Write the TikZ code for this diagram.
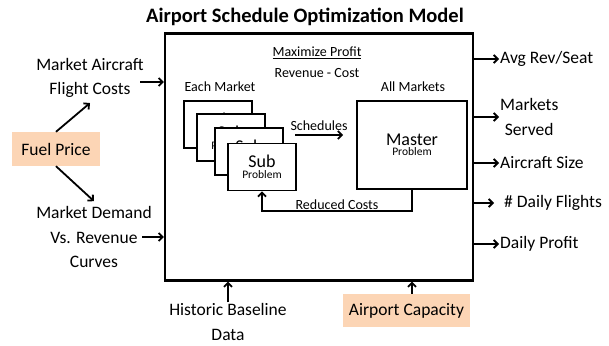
\documentclass[tikz,border=0pt]{standalone}
\usepackage{fontspec}
\setmainfont{Carlito}
\usetikzlibrary{arrows.meta}
\definecolor{peach}{HTML}{FCD5B5}
\begin{document}
\begin{tikzpicture}[x=1pt,y=-1pt,
  big/.style={font=\fontsize{17.5}{24.5}\selectfont, align=center, inner sep=1pt},
  small/.style={font=\fontsize{14}{17}\selectfont, inner sep=1pt},
  subbox/.style={draw, line width=1.8pt, fill=white, minimum width=68pt, minimum height=47pt,
    align=center, inner sep=0pt},
  hilite/.style={fill=peach, font=\fontsize{17.5}{21}\selectfont, inner sep=0pt},
  arr/.style={line width=1.8pt, -{Straight Barb[length=4pt,width=8pt,line width=1.8pt]}}
]
\useasboundingbox (0,0) rectangle (609,345);

% title and the model frame
\node[font=\fontsize{20.5}{24}\selectfont\bfseries, inner sep=0pt] (title) at (305,17) {Airport Schedule Optimization Model};
\node[draw, line width=2.2pt, minimum width=308pt, minimum height=247pt, inner sep=0pt] (model) at (319,157) {};

\node[small] (obj) at (317,53) {\underline{Maximize Profit}};
\node[small] (rc) at (317,73) {Revenue - Cost};
\node[small] (each) at (220,87) {Each Market};
\node[small] (all) at (413,87) {All Markets};

% stacked sub problems, back to front
\foreach \n/\x/\y in {1/218/124.5, 2/231/137.5, 3/249/151.5, 4/262/167}{
  \node[subbox] (sub\n) at (\x,\y) {\fontsize{18}{15}\selectfont Sub\\[-1pt]\fontsize{11.5}{13}\selectfont Problem};
}
\node[draw, line width=1.8pt, minimum width=110pt, minimum height=88pt, inner sep=0pt, align=center] (master) at (412,145)
  {\fontsize{18}{15}\selectfont Master\\[-2pt]\fontsize{11.5}{13}\selectfont Problem};

\coordinate (schedstart) at (295,135);
\draw[arr] (schedstart) -- ([xshift=-13pt]schedstart -| master.west)
  node[small, midway, above, inner sep=3pt] {Schedules};
\draw[arr] (master.south) -- ++(0,21) -| (sub4.south)
  node[small, pos=0.25, above, inner sep=0pt] {Reduced Costs};

% inputs on the left
\node[big] (mac) at (90,78) {Market Aircraft\\Flight Costs};
\node[hilite, minimum width=88pt, minimum height=34pt] (fuel) at (56,149) {Fuel Price};
\node[big] (mdv) at (94,237) {Market Demand\\Vs. Revenue\\Curves};
\coordinate (macout) at (140,82);
\draw[arr] (macout) -- (macout -| model.west);
\coordinate (mdvout) at (142,237);
\draw[arr] (mdvout) -- (mdvout -| model.west);
\draw[arr] (fuel.north) -- ([xshift=0pt,yshift=-4pt]mac.south);
\draw[arr] (fuel.south) -- ([yshift=4pt]mdv.north);

% outputs on the right
\node[big, anchor=west] (avg) at (499,59) {Avg Rev/Seat};
\node[big, anchor=west] (served) at (499,117) {Markets\\Served};
\node[big, anchor=west] (size) at (499,163) {Aircraft Size};
\node[big, anchor=west] (flights) at (503,203) {\# Daily Flights};
\node[big, anchor=west] (profit) at (499,244) {Daily Profit};
\foreach \o in {avg, served, size, profit}{
  \draw[arr] (model.east |- \o.west) -- (\o.west);
}
\draw[arr, shorten >=9pt] (model.east |- flights.west) -- (flights.west);

% inputs below
\node[big, inner sep=0pt] (hist) at (228,322) {Historic Baseline\\Data};
\node[hilite, minimum width=127pt, minimum height=33pt] (cap) at (406.5,310.5) {Airport Capacity};
\draw[arr] ([yshift=1pt]hist.north) -- (hist.north |- model.south);
\draw[arr] ([xshift=5.5pt]cap.north) -- ([xshift=5.5pt]cap.north |- model.south);
\end{tikzpicture}
\end{document}
